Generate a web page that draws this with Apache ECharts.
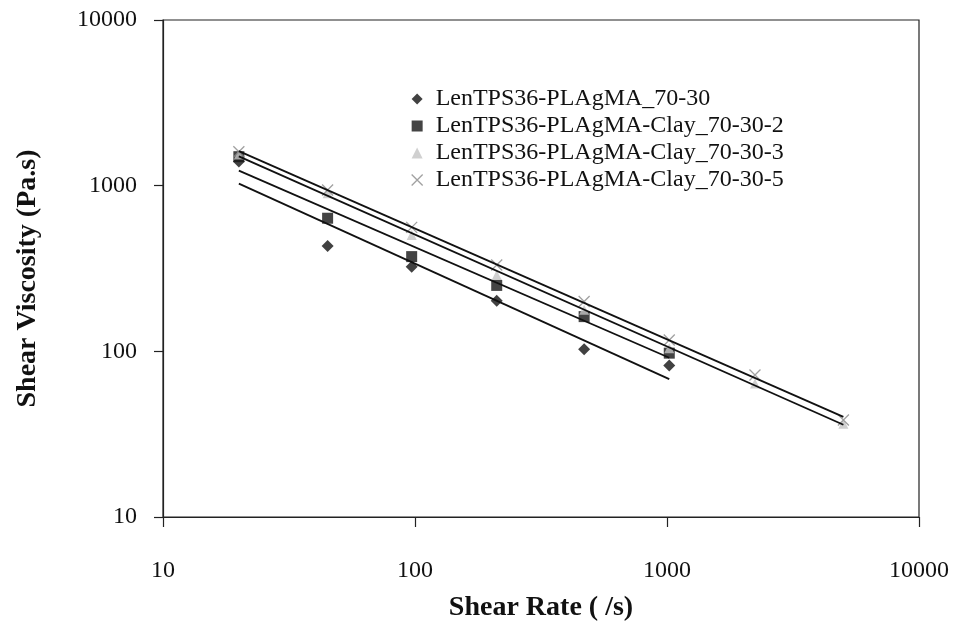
<!DOCTYPE html>
<html>
<head>
<meta charset="utf-8">
<script src="https://cdn.jsdelivr.net/npm/echarts@6/dist/echarts.min.js"></script>
<style>
  html, body { margin: 0; padding: 0; background: #fff; }
  #chart { width: 962px; height: 634px; }
</style>
</head>
<body>
<div id="chart"></div>
<script>
// Shear rate (1/s) for each measurement
const rateShort = [20, 45, 97, 211, 469, 1021];
const rateLong = [20, 45, 97, 211, 469, 1021, 2234, 5012];

// Shear viscosity (Pa.s)
const viscNoClay = [1400, 432, 324, 202, 103, 82];
const viscClay2 = [1496, 636, 373, 250, 162, 97.5];
const viscClay3 = [1540, 899, 504, 289, 178, 104.5, 64, 36.5];
const viscClay5 = [1603, 942, 560, 332, 200, 117, 72, 38.5];

const seriesNames = [
  'LenTPS36-PLAgMA_70-30',
  'LenTPS36-PLAgMA-Clay_70-30-2',
  'LenTPS36-PLAgMA-Clay_70-30-3',
  'LenTPS36-PLAgMA-Clay_70-30-5'
];

const axisTicks = [10, 100, 1000, 10000];

const serif = '"Liberation Serif", "DejaVu Serif", serif';
const crossPath = 'path://M0,0L10,10M10,0L0,10';

// Least-squares power-law fit (straight line in log-log space)
function powerFit(xs, ys) {
  const lx = xs.map(Math.log10), ly = ys.map(Math.log10);
  const n = lx.length;
  const mx = lx.reduce((a, b) => a + b, 0) / n;
  const my = ly.reduce((a, b) => a + b, 0) / n;
  let sxy = 0, sxx = 0;
  for (let i = 0; i < n; i++) {
    sxy += (lx[i] - mx) * (ly[i] - my);
    sxx += (lx[i] - mx) * (lx[i] - mx);
  }
  const b = sxy / sxx;
  const a = my - b * mx;
  const x0 = xs[0], x1 = xs[n - 1];
  return [[x0, Math.pow(10, a + b * Math.log10(x0))],
          [x1, Math.pow(10, a + b * Math.log10(x1))]];
}

const sets = [
  { name: seriesNames[0], x: rateShort, y: viscNoClay, symbol: 'diamond', size: 12,
    style: { color: '#111' } },
  { name: seriesNames[1], x: rateShort, y: viscClay2, symbol: 'rect', size: 11,
    style: { color: '#151515' } },
  { name: seriesNames[2], x: rateLong, y: viscClay3, symbol: 'triangle', size: 10,
    style: { color: '#c4c4c4' } },
  { name: seriesNames[3], x: rateLong, y: viscClay5, symbol: crossPath, size: 11,
    style: { color: 'rgba(0,0,0,0)', borderColor: '#8a8a8a', borderWidth: 1.3 } }
];

const series = [];
sets.forEach(s => {
  series.push({
    name: s.name,
    type: 'scatter',
    symbol: s.symbol,
    symbolSize: s.size,
    itemStyle: s.style,
    data: s.x.map((x, i) => [x, s.y[i]]),
    z: 2
  });
});
sets.forEach(s => {
  series.push({
    name: s.name + ' fit',
    type: 'line',
    showSymbol: false,
    silent: true,
    lineStyle: { color: '#111', width: 1.8 },
    data: powerFit(s.x, s.y),
    z: 3
  });
});

const plainNumber = v => String(Math.round(v));

const chart = echarts.init(document.getElementById('chart'), null, { renderer: 'canvas' });
chart.setOption({
  backgroundColor: '#fff',
  animation: false,
  grid: {
    left: 163, right: 43, top: 20, bottom: 117,
    show: true, borderColor: '#222', borderWidth: 1.2, backgroundColor: 'transparent'
  },
  legend: {
    data: sets.map(s => ({ name: s.name, icon: s.symbol, itemStyle: s.style })),
    orient: 'vertical',
    left: 406,
    top: 82,
    itemWidth: 11,
    itemHeight: 11,
    itemGap: 3,
    textStyle: { fontFamily: serif, fontSize: 24, color: '#111', lineHeight: 24, padding: [0, 0, 0, 8] }
  },
  xAxis: {
    type: 'log',
    logBase: 10,
    min: axisTicks[0],
    max: axisTicks[axisTicks.length - 1],
    name: 'Shear Rate ( /s)',
    nameLocation: 'middle',
    nameGap: 77,
    nameTextStyle: { fontFamily: serif, fontSize: 28, fontWeight: 'bold', color: '#111' },
    axisLine: { lineStyle: { color: '#222', width: 1.2 } },
    axisTick: { show: true, inside: false, length: 10, lineStyle: { color: '#222', width: 1.2 } },
    minorTick: { show: false },
    splitLine: { show: false },
    axisLabel: { fontFamily: serif, fontSize: 24, color: '#111', margin: 42, formatter: plainNumber }
  },
  yAxis: {
    type: 'log',
    logBase: 10,
    min: axisTicks[0],
    max: axisTicks[axisTicks.length - 1],
    name: 'Shear Viscosity (Pa.s)',
    nameLocation: 'middle',
    nameGap: 121,
    nameRotate: 90,
    nameTextStyle: { fontFamily: serif, fontSize: 28, fontWeight: 'bold', color: '#111', padding: [0, 20, 0, 0] },
    axisLine: { lineStyle: { color: '#222', width: 1.2 } },
    axisTick: { show: true, inside: false, length: 9, lineStyle: { color: '#222', width: 1.2 } },
    splitLine: { show: false },
    axisLabel: { fontFamily: serif, fontSize: 24, color: '#111', margin: 26, formatter: plainNumber }
  },
  series: series
});
</script>
</body>
</html>
